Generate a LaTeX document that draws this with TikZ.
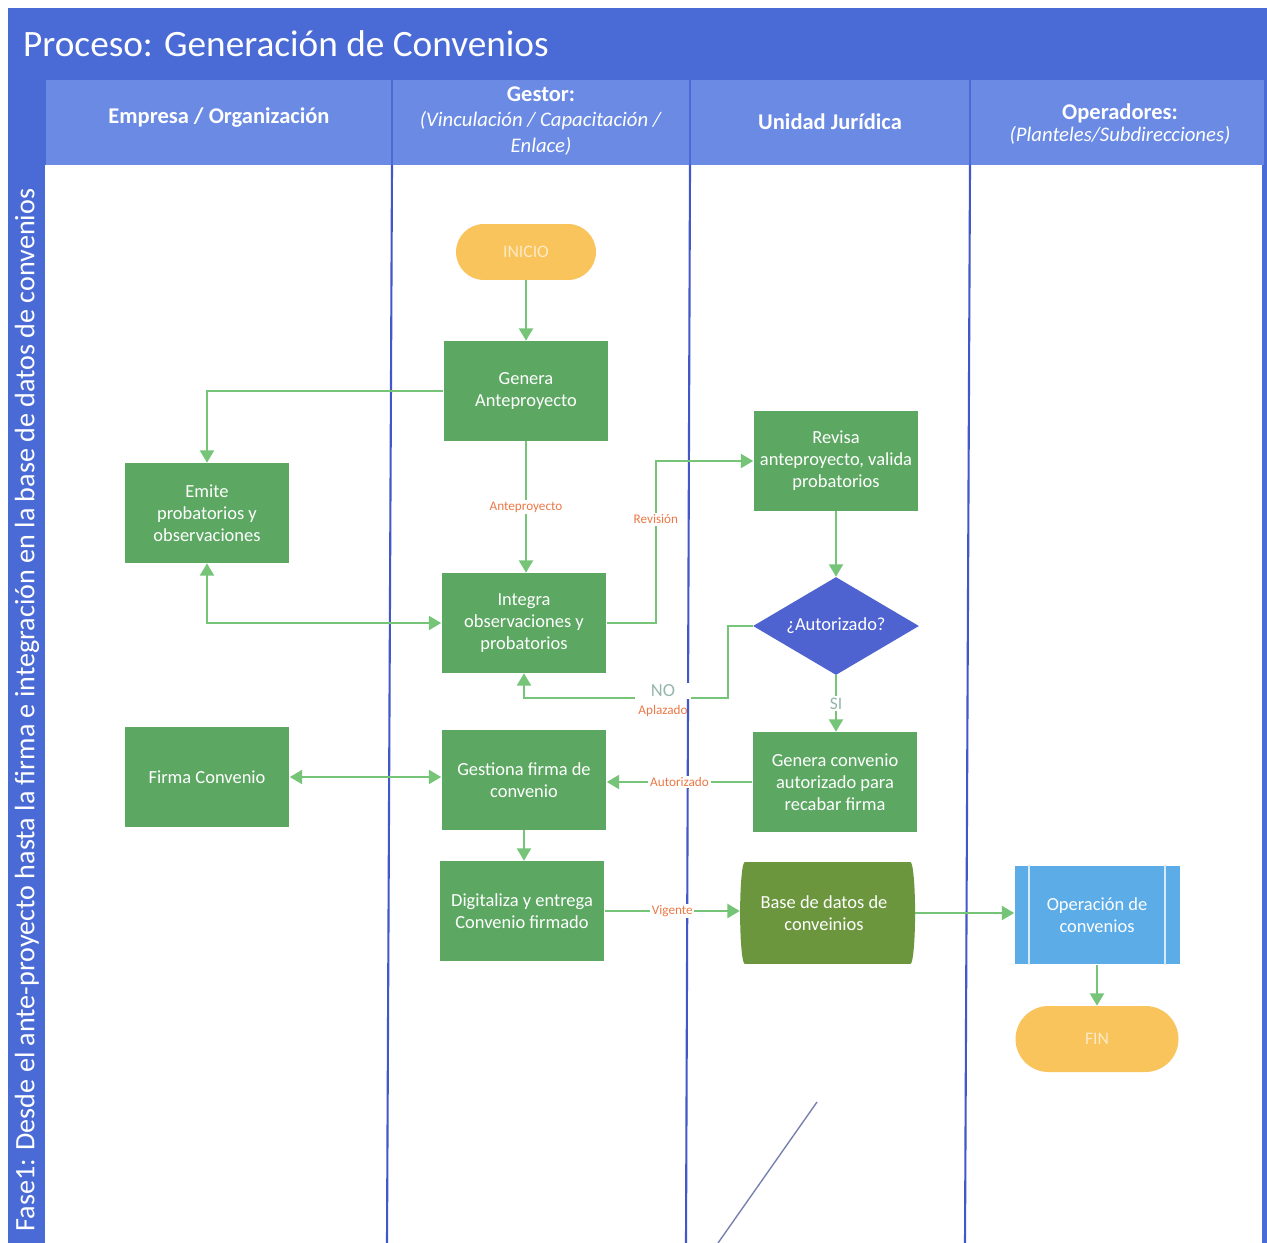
\documentclass[tikz,border=0pt]{standalone}
\usepackage{fontspec}
\setmainfont{Carlito}
\usetikzlibrary{positioning}
\usetikzlibrary{shapes.geometric}
\usetikzlibrary{arrows.meta}

\definecolor{marco}{RGB}{74,106,214}
\definecolor{cabecera}{RGB}{106,138,228}
\definecolor{carril}{RGB}{66,88,200}
\definecolor{verdecaja}{RGB}{92,168,98}
\definecolor{verdeflecha}{RGB}{118,196,120}
\definecolor{azulrombo}{RGB}{78,98,208}
\definecolor{olivo}{RGB}{108,150,62}
\definecolor{celeste}{RGB}{92,172,232}
\definecolor{naranja}{RGB}{250,196,92}
\definecolor{etiqueta}{RGB}{236,120,70}
\definecolor{grisno}{RGB}{150,182,172}
\definecolor{trazo}{RGB}{120,130,175}

\tikzset{
  actividad/.style={rectangle, fill=verdecaja, text=white, minimum width=3.3cm, minimum height=2cm, align=center, inner sep=2pt, font=\fontsize{10.5}{12.5}\selectfont},
  terminal/.style={rectangle, rounded corners=0.56cm, fill=naranja, text=white!65!naranja, minimum width=2.8cm, minimum height=1.12cm, font=\fontsize{10}{12}\selectfont},
  decision/.style={diamond, fill=azulrombo, text=white, minimum width=3.32cm, minimum height=1.96cm, inner sep=0pt, aspect=1.7, font=\fontsize{10.5}{12}\selectfont},
  basedatos/.style={cylinder, fill=olivo, text=white, minimum height=3.5cm, minimum width=2.04cm, aspect=0.2, align=center, font=\fontsize{10.5}{12.5}\selectfont},
  proceso/.style={rectangle, fill=celeste, text=white, minimum width=3.3cm, minimum height=1.98cm, align=center, font=\fontsize{10.5}{12.5}\selectfont},
  encabezado/.style={text=white, align=center, font=\fontsize{12.8}{14.7}\selectfont\bfseries},
  flecha/.style={draw=verdeflecha, line width=1.1pt, -{Triangle[width=8pt,length=7pt]}},
  doble/.style={draw=verdeflecha, line width=1.1pt, {Triangle[width=8pt,length=7pt]}-{Triangle[width=8pt,length=7pt]}},
  rotulo/.style={fill=white, text=etiqueta, inner sep=1pt, font=\fontsize{7.5}{9}\selectfont}
}

\begin{document}
\begin{tikzpicture}[x=0.02cm, y=-0.02cm]
\useasboundingbox (0,0) rectangle (1267,1243);
\fill[white] (0,0) rectangle (1267,1243);
\fill[marco] (8,8) rectangle (1267,1243);
\foreach \xa/\xb in {45/392, 392/690, 690/970, 970/1265}
  \fill[cabecera] (\xa+1,80) rectangle (\xb-1,165);
\fill[white] (45,165) rectangle (1262,1243);
\foreach \xa/\xb in {392/387, 690/686, 970/965}
  \draw[carril, line width=1.2pt] (\xa,165) -- (\xb,1243);

\node[anchor=west, text=white, font=\fontsize{21.2}{25}\selectfont] (titulo) at (17,44) {Proceso: Generación de Convenios};
\node[rotate=90, text=white, font=\fontsize{16}{18}\selectfont] (fase) at (27,710) {Fase1: Desde el ante-proyecto hasta la firma e integración en la base de datos de convenios};

\node[encabezado] (empresa) at (219,118) {Empresa / Organización};
\node[encabezado] (gestor) at (541,121) {Gestor:\\\textit{\mdseries\fontsize{11.8}{14.7}\selectfont (Vinculación / Capacitación /}\\\textit{\mdseries\fontsize{11.8}{14.7}\selectfont Enlace)}};
\node[encabezado] (juridica) at (830,122) {Unidad Jurídica};
\node[encabezado, font=\fontsize{12.8}{12.8}\selectfont\bfseries] (operadores) at (1120,124) {Operadores:\\\textit{\mdseries\fontsize{11.8}{12.8}\selectfont (Planteles/Subdirecciones)}};

\node[terminal] (inicio) at (526,252) {INICIO};
\node[actividad] (genera) at (526,391) {Genera\\Anteproyecto};
\node[actividad] (emite) at (207,513) {Emite\\probatorios y\\observaciones};
\node[actividad] (integra) at (524,623) {Integra\\observaciones y\\probatorios};
\node[actividad] (revisa) at (836,461) {Revisa\\anteproyecto, valida\\probatorios};
\node[decision] (autorizado) at (836,626) {¿Autorizado?};
\node[actividad] (genconv) at (835,782) {Genera convenio\\autorizado para\\recabar firma};
\node[actividad] (firma) at (207,777) {Firma Convenio};
\node[actividad] (gestiona) at (524,780) {Gestiona firma de\\convenio};
\node[actividad] (digitaliza) at (522,911) {Digitaliza y entrega\\Convenio firmado};
\node[basedatos] (bd) at (824,913) {Base de datos de\\conveinios};
\node[proceso] (operacion) at (1097,915) {Operación de\\convenios};
\draw[white!75!celeste, line width=0.8pt] ([xshift=0.3cm]operacion.north west) -- ([xshift=0.3cm]operacion.south west);
\draw[white!75!celeste, line width=0.8pt] ([xshift=-0.3cm]operacion.north east) -- ([xshift=-0.3cm]operacion.south east);
\node[terminal, minimum width=3.26cm, minimum height=1.32cm, rounded corners=0.66cm] (fin) at (1097,1039) {FIN};

\draw[flecha] (inicio) -- (genera);
\draw[flecha] (genera.west) -| (emite.north);
\draw[flecha] (genera.south) -- node[rotulo] (antep) {Anteproyecto} (genera.south |- integra.north);
\draw[flecha] (integra.east) -- ++(49,0) |- node[rotulo, pos=0.32] (revision) {Revisión} (revisa.west);
\draw[flecha] (revisa) -- (autorizado);
\draw[flecha] (autorizado.west) -| (728,698) -| (integra.south);
\node[fill=white, text=grisno, inner xsep=9pt, inner ysep=1pt, font=\fontsize{10.5}{12}\selectfont] (no) at (663,691) {NO};
\node[text=etiqueta, inner sep=1pt, font=\fontsize{7.5}{9}\selectfont] (aplazado) at (663,711) {Aplazado};
\draw[doble] (emite.south) |- (integra.west);
\draw[flecha] (autorizado.south) -- node[fill=white, text=grisno, inner sep=1pt, font=\fontsize{10}{11}\selectfont] (si) {SI} (autorizado.south |- genconv.north);
\draw[flecha] (genconv.west) -- node[rotulo] (autoriz) {Autorizado} (genconv.west -| gestiona.east);
\draw[doble] (firma.east) -- (firma.east -| gestiona.west);
\draw[flecha] (gestiona.south) -- (gestiona.south |- digitaliza.north);
\draw[flecha] (digitaliza.east) -- node[rotulo] (vigente) {Vigente} (digitaliza.east -| bd.west);
\draw[flecha] (bd.east) -- (bd.east -| operacion.west);
\draw[flecha] (operacion) -- (fin);

\draw[trazo, line width=0.8pt] (817,1102) -- (718,1243);
\end{tikzpicture}
\end{document}
